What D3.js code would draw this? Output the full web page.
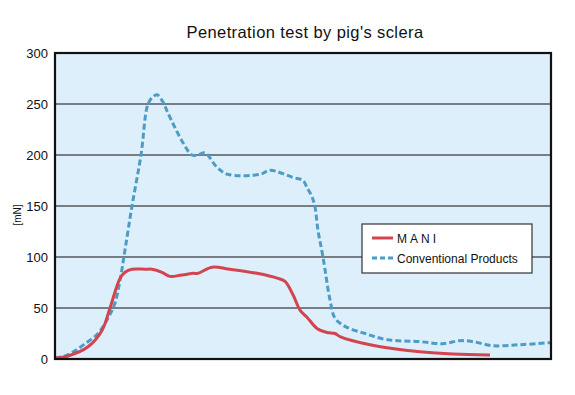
<!DOCTYPE html>
<html><head><meta charset="utf-8">
<script src="https://cdn.jsdelivr.net/npm/d3@7"></script>
<style>body{margin:0;background:#fff;}svg{display:block;font-family:"Liberation Sans",Arial,sans-serif;}</style>
</head><body><svg id="c" width="575" height="395"></svg>
<script>
const title = "Penetration test by pig's sclera";
const yLabel = "[mN]";
const yTicks = [0, 50, 100, 150, 200, 250, 300];
const seriesNames = ["MANI", "Conventional Products"];
const maniX = [0,13,33,47,55,65,70,77,90,97,107,115,125,138,143,157,175,202,223,230,238,245,252,262,272,280,285,315,365,398,435];
const maniY = [1,3,12,28,50,79,85,88,88,88,85,81,82,84,84,90,88,84,79,76,63,48,41,30,26,25,22,14,7,5,4];
const convX = [0,10,20,30,43,53,60,65,70,77,86,93,98,102,108,113,128,137,143,150,162,173,205,215,238,248,252,257,260,263,268,275,280,290,310,332,365,388,405,418,438,465,495];
const convY = [1,3,8,15,25,40,55,77,107,150,200,250,257,259,252,241,212,200,200,202,188,181,181,185,178,175,168,159,149,126,100,58,40,32,25,19,17,15,18,17,13,14,16];

const svg = d3.select("#c");
const L = 55, R = 551, T = 53, B = 359;
const x = d3.scaleLinear().domain([0, 496]).range([L, R]);
const y = d3.scaleLinear().domain([0, 300]).range([B, T]);

svg.append("rect").attr("x", L).attr("y", T).attr("width", R - L).attr("height", B - T).attr("fill", "#ddeffa");

svg.append("g").selectAll("line").data(yTicks.filter(d => d > 0 && d < 300)).join("line")
  .attr("x1", L).attr("x2", R).attr("y1", d => y(d)).attr("y2", d => y(d))
  .attr("stroke", "#111").attr("stroke-width", 1.1);

const yAxis = svg.append("g").attr("transform", `translate(${L},0)`)
  .call(d3.axisLeft(y).tickValues(yTicks).tickSize(0).tickPadding(7));
yAxis.select(".domain").remove();
yAxis.selectAll("text").attr("font-size", 13).attr("fill", "#111").attr("font-family", "Liberation Sans, Arial, sans-serif");

const line = d3.line().x(d => x(d[0])).y(d => y(d[1])).curve(d3.curveCatmullRom);
const conv = convX.map((v, i) => [v, convY[i]]);
const mani = maniX.map((v, i) => [v, maniY[i]]);

svg.append("path").datum(conv).attr("d", line).attr("fill", "none")
  .attr("stroke", "#4d9cc6").attr("stroke-width", 3).attr("stroke-dasharray", "6,3");
svg.append("path").datum(mani).attr("d", line).attr("fill", "none")
  .attr("stroke", "#d3444f").attr("stroke-width", 3);

svg.append("rect").attr("x", L).attr("y", T).attr("width", R - L).attr("height", B - T)
  .attr("fill", "none").attr("stroke", "#111").attr("stroke-width", 2.2);

svg.append("text").attr("x", 305).attr("y", 38).attr("text-anchor", "middle")
  .attr("font-size", 16.5).attr("letter-spacing", 0.4).attr("fill", "#111")
  .attr("font-family", "Liberation Sans, Arial, sans-serif").text(title);

svg.append("text").attr("transform", "translate(21,215) rotate(-90)").attr("text-anchor", "middle")
  .attr("font-size", 10).attr("fill", "#111").text(yLabel);

// legend
const lg = svg.append("g");
lg.append("rect").attr("x", 362).attr("y", 224).attr("width", 170).attr("height", 49)
  .attr("fill", "#fff").attr("stroke", "#333").attr("stroke-width", 1.2);
lg.append("line").attr("x1", 372).attr("x2", 393).attr("y1", 238).attr("y2", 238)
  .attr("stroke", "#d3444f").attr("stroke-width", 3);
lg.append("line").attr("x1", 372).attr("x2", 394).attr("y1", 258).attr("y2", 258)
  .attr("stroke", "#4d9cc6").attr("stroke-width", 3).attr("stroke-dasharray", "5,3");
lg.append("text").attr("x", 397).attr("y", 242.5).attr("font-size", 12).attr("letter-spacing", 3)
  .attr("fill", "#111").text(seriesNames[0]);
lg.append("text").attr("x", 397).attr("y", 262.5).attr("font-size", 12)
  .attr("fill", "#111").text(seriesNames[1]);
</script></body></html>
